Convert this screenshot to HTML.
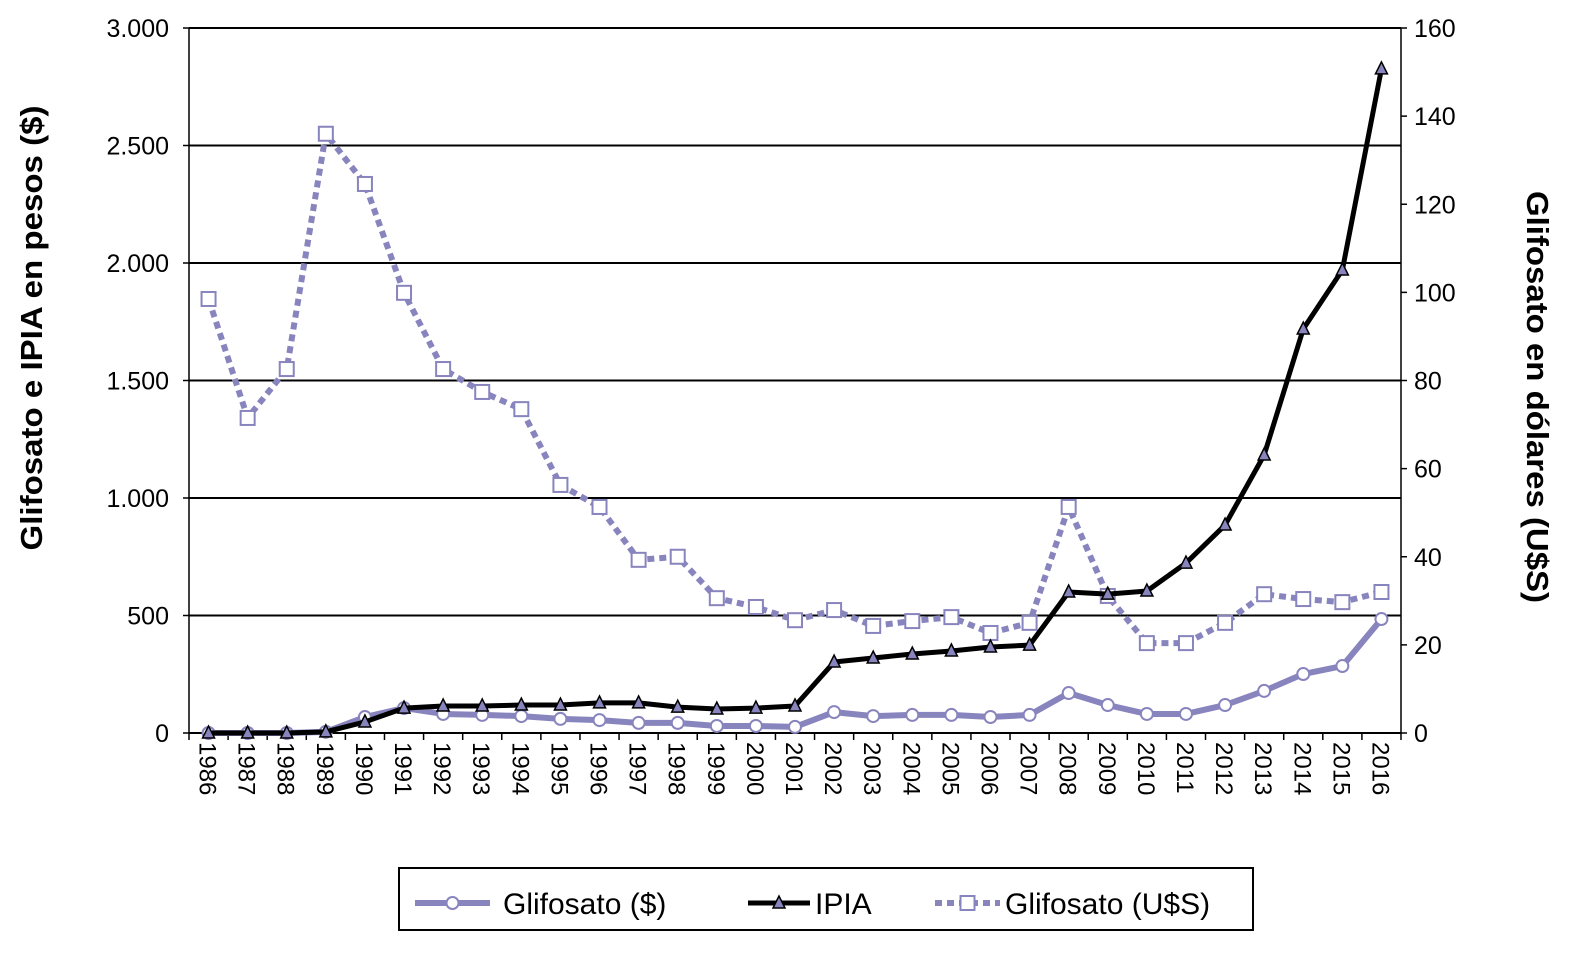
<!DOCTYPE html>
<html><head><meta charset="utf-8"><style>
body{margin:0;background:#fff;}
svg{display:block;font-family:"Liberation Sans",Arial,sans-serif;}
</style></head><body>
<svg id="chart" width="1589" height="954" xmlns="http://www.w3.org/2000/svg"></svg>
<script>
const years = [1986,1987,1988,1989,1990,1991,1992,1993,1994,1995,1996,1997,1998,1999,2000,2001,2002,2003,2004,2005,2006,2007,2008,2009,2010,2011,2012,2013,2014,2015,2016];
const glifPesos = [0,0,0,5,68,106,81,77,72,60,55,43,43,30,30,26,89,72,77,77,68,77,170,119,81,81,119,179,251,285,485];
const ipia = [0,0,0,5,47,106,115,115,119,119,128,128,110,102,106,115,302,319,336,349,366,374,600,591,604,723,885,1183,1719,1970,2826];
const glifUSD = [98.5,71.5,82.6,136,124.6,99.9,82.6,77.4,73.5,56.3,51.3,39.3,40,30.6,28.6,25.6,27.9,24.3,25.4,26.3,22.7,25,51.3,31.1,20.4,20.4,25,31.5,30.4,29.7,32];
const leftTicks = [0,500,1000,1500,2000,2500,3000];
const leftTickLabels = ["0","500","1.000","1.500","2.000","2.500","3.000"];
const rightTicks = [0,20,40,60,80,100,120,140,160];

const NS="http://www.w3.org/2000/svg";
const svg=document.getElementById('chart');
const X0=189,X1=1401,Y0=733,Y1=28;
const step=(X1-X0)/years.length;
const xs=i=>X0+step*(i+0.5);
const yL=v=>Y0-(v/3000)*(Y0-Y1);
const yR=v=>Y0-(v/160)*(Y0-Y1);
function el(t,a,p){const e=document.createElementNS(NS,t);for(const k in a)e.setAttribute(k,a[k]);(p||svg).appendChild(e);return e;}

leftTicks.forEach((v,i)=>{
  if(v>0){const g=el('line',{x1:X0,x2:X1,y1:yL(v),y2:yL(v),stroke:'#000','stroke-width':2});
  
  }
  el('line',{x1:X0-6,x2:X0,y1:yL(v),y2:yL(v),stroke:'#000','stroke-width':1.5});
  const t=el('text',{x:X0-20,y:yL(v)+9,'text-anchor':'end','font-size':25});
  t.textContent=leftTickLabels[i];
  
  
});
rightTicks.forEach(v=>{
  el('line',{x1:X1,x2:X1+6,y1:yR(v),y2:yR(v),stroke:'#000','stroke-width':1.5});
  const t=el('text',{x:X1+13,y:yR(v)+9,'font-size':25});
  t.textContent=v;
  
  
});
el('line',{x1:X0,x2:X0,y1:Y1,y2:Y0,stroke:'#000','stroke-width':1.5});
el('line',{x1:X1,x2:X1,y1:Y1,y2:Y0,stroke:'#000','stroke-width':1.5});
el('line',{x1:X0,x2:X1,y1:Y0,y2:Y0,stroke:'#000','stroke-width':2});
years.forEach((yr,i)=>{
  el('line',{x1:X0+step*i,x2:X0+step*i,y1:Y0,y2:Y0+7,stroke:'#000','stroke-width':1.5});
  const t=el('text',{x:0,y:0,'font-size':24,transform:`translate(${xs(i)-9},${Y0+9}) rotate(90)`});
  t.textContent=yr;
  
  
});
el('line',{x1:X1,x2:X1,y1:Y0,y2:Y0+7,stroke:'#000','stroke-width':1.5});

let t=el('text',{x:0,y:0,'font-size':31,'font-weight':'bold','text-anchor':'middle',textLength:445,lengthAdjust:'spacingAndGlyphs',transform:`translate(42,328) rotate(-90)`});
t.textContent='Glifosato e IPIA en pesos ($)';

t=el('text',{x:0,y:0,'font-size':31,'font-weight':'bold','text-anchor':'middle',textLength:412,lengthAdjust:'spacingAndGlyphs',transform:`translate(1527,397) rotate(90)`});
t.textContent='Glifosato en dólares (U$S)';


const purple='#8884bd';
function series(vals,yf,style,name){
  const g=el('g',{});
  
  
  const pts=vals.map((v,i)=>xs(i)+','+yf(v)).join(' ');
  el('polyline',{points:pts,fill:'none',stroke:style.c,'stroke-width':style.w,'stroke-dasharray':style.d||'none','stroke-linejoin':'round'},g);
  vals.forEach((v,i)=>{
    const x=xs(i),y=yf(v);let m;
    if(style.m==='circle')m=el('circle',{cx:x,cy:y,r:6,fill:'#fff',stroke:purple,'stroke-width':2},g);
    else if(style.m==='tri')m=el('polygon',{points:`${x},${y-7} ${x-6},${y+5} ${x+6},${y+5}`,fill:purple,stroke:'#000','stroke-width':1.5},g);
    else m=el('rect',{x:x-7,y:y-7,width:14,height:14,fill:'#fff',stroke:purple,'stroke-width':2},g);
    
    
  });
}
series(glifUSD,yR,{c:purple,w:6,d:'7 5',m:'sq'},'glifosato-usd-series');
series(glifPesos,yL,{c:purple,w:6,m:'circle'},'glifosato-pesos-series');
series(ipia,yL,{c:'#000',w:5,m:'tri'},'ipia-series');

const lg=el('g',{});

el('rect',{x:399,y:868,width:854,height:62,fill:'#fff',stroke:'#000','stroke-width':2},lg);
function entry(x,w,tx0,label,st,name){
  const g=el('g',{},lg);
  
  el('line',{x1:x,x2:x+w,y1:903,y2:903,stroke:st.c,'stroke-width':st.w,'stroke-dasharray':st.d||'none'},g);
  const cx=x+w/2,cy=903;
  if(st.m==='circle')el('circle',{cx,cy,r:6,fill:'#fff',stroke:purple,'stroke-width':2},g);
  else if(st.m==='tri')el('polygon',{points:`${cx},${cy-7} ${cx-6},${cy+5} ${cx+6},${cy+5}`,fill:purple,stroke:'#000','stroke-width':1.5},g);
  else el('rect',{x:cx-7,y:cy-7,width:14,height:14,fill:'#fff',stroke:purple,'stroke-width':2},g);
  const tx=el('text',{x:tx0,y:914,'font-size':30},g);tx.textContent=label;
}
entry(415,75,503,'Glifosato ($)',{c:purple,w:6,m:'circle'},'legend-glifosato-pesos');
entry(748,62,815,'IPIA',{c:'#000',w:5,m:'tri'},'legend-ipia');
entry(935,65,1005,'Glifosato (U$S)',{c:purple,w:6,d:'7 5',m:'sq'},'legend-glifosato-usd');
</script>
</body></html>
